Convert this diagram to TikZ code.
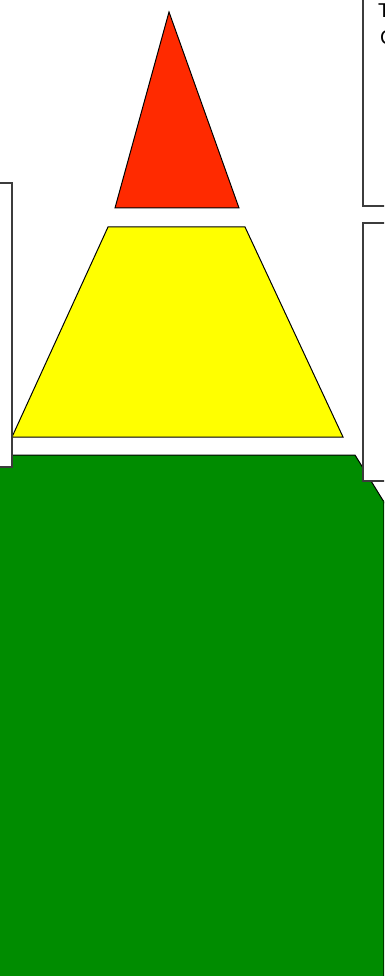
\documentclass[tikz,border=0pt]{standalone}
\usepackage{fontspec}
\setmainfont{Liberation Sans}
\definecolor{redc}{RGB}{255,42,0}
\definecolor{yelc}{RGB}{255,255,0}
\definecolor{grnc}{RGB}{0,140,0}
\definecolor{boxline}{RGB}{60,60,60}
\begin{document}
\begin{tikzpicture}[x=1pt,y=-1pt,
  shapeline/.style={draw=black,line width=1pt,line join=miter},
  infobox/.style={draw=boxline,fill=white,line width=2pt},
  clipped/.style={font=\fontsize{20}{24}\selectfont,inner sep=0pt,anchor=north west}]
\useasboundingbox (0,0) rectangle (384,976);
\clip (0,0) rectangle (384,976);
% green base
\coordinate (g1) at (-10,455);
\coordinate (g2) at (355,455);
\coordinate (g3) at (400,528);
\fill[grnc] (g1) -- (g2) -- (g3) -- (400,990) -- (-10,990) -- cycle;
\draw[shapeline] (g1) -- (g2) -- (g3);
\draw[black!60!grnc,line width=1pt] (383.5,500) -- (383.5,990);
% yellow trapezoid
\coordinate (y1) at (108,227);
\coordinate (y2) at (245,227);
\coordinate (y3) at (343,437);
\coordinate (y4) at (12,437);
\filldraw[shapeline,fill=yelc] (y1) -- (y2) -- (y3) -- (y4) -- cycle;
% red triangle
\coordinate (r1) at (169,12);
\coordinate (r2) at (239,208);
\coordinate (r3) at (115,208);
\filldraw[shapeline,fill=redc] (r1) -- (r2) -- (r3) -- cycle;
% boxes
\draw[infobox] (-20,183) rectangle (12,467);
\draw[infobox] (363,-20) rectangle (420,206);
\draw[infobox] (363,223) rectangle (420,481);
% clipped text
\node[clipped] (t1) at (378,4) {T};
\node[clipped] (t2) at (380,30) {C};
\end{tikzpicture}
\end{document}
